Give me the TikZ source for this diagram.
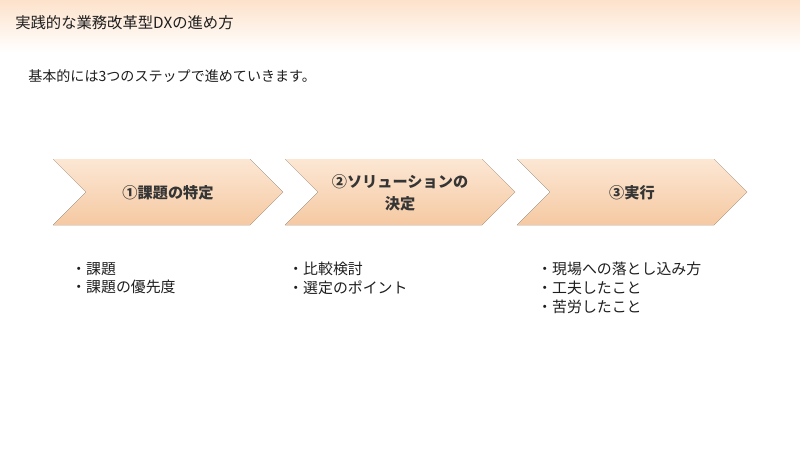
\documentclass[tikz,border=0pt]{standalone}
\usepackage{fontspec}
\setmainfont{Noto Sans CJK JP}
\usetikzlibrary{positioning}
\definecolor{headpeach}{RGB}{253,226,203}
\definecolor{peachlight}{RGB}{252,231,212}
\definecolor{peachdark}{RGB}{245,201,162}
\definecolor{inkgray}{RGB}{30,30,30}
\tikzset{
  steparrow/.style={top color=peachlight, bottom color=peachdark, draw=none},
  steplabel/.style={font=\bfseries\fontsize{10.8}{15.6}\selectfont, text=inkgray!90, align=center},
  itemlist/.style={font=\fontsize{10.6}{13.3}\selectfont, text=inkgray, anchor=north west, align=left, inner sep=0pt},
}
\begin{document}
\begin{tikzpicture}[x=0.025cm, y=-0.025cm]
  \useasboundingbox (0,0) rectangle (800,450);
  % Header band
  \fill[top color=headpeach, bottom color=white] (0,0) rectangle (800,52);
  \node[anchor=west, inner sep=0pt, font=\fontsize{10.9}{13}\selectfont, text=inkgray] (title) at (15,23) {実践的な業務改革型DXの進め方};
  \node[anchor=west, inner sep=0pt, font=\fontsize{10}{12}\selectfont, text=inkgray] (intro) at (28,76) {基本的には3つのステップで進めていきます。};
  % Three steps
  \foreach \i/\lbl [evaluate=\i as \x using 53+232*\i] in {0/{①課題の特定}, 1/{②ソリューションの\\決定}, 2/{③実行}} {
    \fill[steparrow] (\x,159) -- (\x+197,159) -- (\x+230,192) -- (\x+197,225) -- (\x,225) -- (\x+33,192) -- cycle;
    \node[steplabel] (step\i) at (\x+115,193) {\lbl};
  }
  % Points of each step
  \node[itemlist] (items0) at (71,262) {・課題\\・課題の優先度};
  \node[itemlist] (items1) at (288,262) {・比較検討\\・選定のポイント};
  \node[itemlist] (items2) at (537,262) {・現場への落とし込み方\\・工夫したこと\\・苦労したこと};
\end{tikzpicture}
\end{document}
